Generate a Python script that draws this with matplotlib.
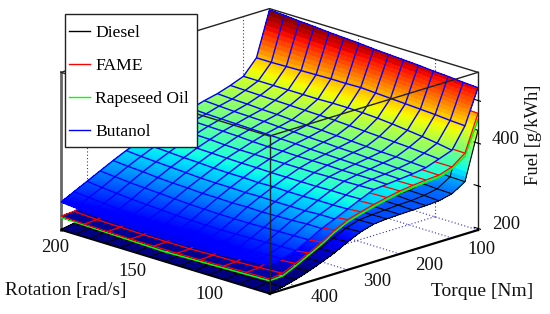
import numpy as np
import matplotlib
matplotlib.use("Agg")
import matplotlib.pyplot as plt
from matplotlib.lines import Line2D
from matplotlib.patches import Rectangle
from mpl_toolkits.mplot3d import proj3d

plt.rcParams['font.family'] = ['Liberation Serif', 'DejaVu Serif']

torque = [450, 425, 400, 375, 350, 325, 300, 275, 250, 225, 200, 175, 150, 125, 100, 75, 50]
rotation_fine = [207, 197.4, 187.7, 178.1, 168.4, 158.8, 149.1, 139.5, 129.9, 120.2, 110.6, 100.9, 91.3, 81.6, 72]
rotation_fame = [207, 192, 177, 162, 147, 132, 117, 102, 87, 72]
rotation_rape = [207, 139.5, 72]

butanol = [
    [262, 259, 256, 254, 252, 252, 251, 251, 251, 252, 253, 255, 258, 261, 264],
    [277, 274, 271, 268, 266, 265, 263, 262, 262, 262, 263, 264, 266, 268, 269],
    [292, 288, 285, 282, 280, 278, 276, 275, 274, 274, 275, 276, 277, 278, 279],
    [307, 304, 301, 299, 297, 295, 293, 292, 291, 291, 291, 292, 293, 294, 295],
    [322, 319, 317, 314, 312, 311, 309, 309, 308, 309, 308, 309, 310, 312, 312],
    [336, 333, 331, 329, 327, 325, 324, 324, 323, 324, 323, 323, 323, 325, 325],
    [348, 346, 344, 342, 341, 339, 338, 338, 337, 338, 337, 337, 338, 338, 339],
    [360, 358, 357, 355, 354, 353, 352, 352, 351, 351, 351, 351, 352, 352, 353],
    [370, 368, 367, 366, 364, 363, 363, 363, 363, 363, 363, 364, 364, 365, 366],
    [379, 378, 377, 376, 375, 373, 372, 372, 371, 371, 371, 370, 370, 370, 369],
    [388, 386, 385, 384, 383, 382, 381, 380, 378, 377, 376, 375, 374, 373, 372],
    [397, 395, 393, 392, 391, 389, 388, 386, 385, 383, 382, 380, 379, 377, 375],
    [404, 402, 401, 399, 398, 396, 394, 393, 391, 389, 387, 385, 384, 382, 380],
    [414, 413, 412, 411, 410, 409, 408, 407, 405, 403, 401, 399, 397, 394, 391],
    [426, 426, 426, 426, 426, 426, 427, 427, 426, 424, 421, 417, 413, 408, 402],
    [460, 460, 461, 462, 463, 464, 464, 465, 463, 461, 459, 457, 455, 452, 450],
    [563, 561, 558, 556, 553, 551, 549, 546, 544, 542, 540, 537, 535, 532, 530],
]

fame = [
    [229, 227, 226, 225, 225, 225, 226, 228, 230, 231],
    [231, 228, 227, 226, 226, 226, 228, 229, 232, 235],
    [241, 238, 236, 234, 234, 235, 237, 239, 244, 249],
    [255, 250, 247, 245, 245, 246, 249, 252, 257, 264],
    [271, 265, 262, 260, 260, 261, 264, 268, 273, 280],
    [287, 281, 278, 276, 276, 277, 280, 284, 291, 299],
    [303, 298, 294, 292, 292, 293, 296, 301, 308, 314],
    [316, 312, 308, 306, 306, 307, 310, 314, 319, 323],
    [328, 324, 321, 319, 319, 320, 322, 325, 328, 331],
    [338, 334, 332, 330, 330, 331, 332, 334, 336, 338],
    [346, 343, 341, 339, 339, 339, 340, 341, 343, 344],
    [353, 350, 348, 346, 346, 346, 346, 347, 347, 348],
    [359, 356, 354, 352, 351, 351, 351, 351, 351, 351],
    [366, 363, 360, 358, 357, 356, 356, 355, 354, 353],
    [377, 374, 371, 369, 367, 366, 365, 364, 363, 363],
    [407, 402, 398, 395, 393, 391, 389, 388, 387, 386],
    [500, 495, 490, 486, 482, 480, 477, 475, 472, 470],
]

rapeseed = [
    [226, 220, 227], [227, 221, 229], [236, 230, 243], [249, 240, 259], [265, 255, 275],
    [281, 272, 294], [297, 287, 309], [310, 301, 318], [322, 314, 326], [332, 325, 333],
    [340, 334, 339], [347, 341, 343], [353, 346, 346], [360, 351, 348], [371, 361, 358],
    [400, 385, 379], [490, 470, 455],
]

diesel = [
    [198, 198, 198, 198, 198, 198, 198, 198, 198, 198, 198, 198, 198, 198, 198],
    [203, 202, 202, 201, 201, 201, 201, 201, 201, 201, 202, 202, 202, 203, 203],
    [210, 209, 208, 207, 207, 206, 206, 206, 207, 207, 208, 208, 209, 210, 211],
    [220, 218, 216, 215, 214, 214, 214, 214, 215, 215, 216, 217, 219, 220, 221],
    [232, 229, 227, 226, 225, 225, 225, 225, 226, 226, 227, 228, 230, 232, 233],
    [246, 243, 241, 239, 238, 237, 237, 237, 238, 238, 239, 241, 243, 245, 246],
    [261, 258, 255, 253, 251, 250, 250, 250, 251, 252, 253, 255, 258, 260, 262],
    [275, 272, 269, 267, 265, 264, 264, 264, 265, 266, 267, 269, 272, 274, 276],
    [285, 282, 279, 277, 276, 275, 275, 275, 276, 277, 278, 280, 282, 284, 285],
    [291, 289, 286, 284, 283, 282, 282, 282, 283, 284, 284, 285, 286, 287, 288],
    [297, 294, 292, 290, 289, 288, 288, 288, 289, 289, 289, 289, 289, 289, 289],
    [303, 300, 298, 296, 295, 294, 294, 294, 293, 293, 292, 292, 291, 291, 290],
    [308, 305, 303, 301, 300, 299, 298, 298, 297, 297, 296, 295, 294, 292, 291],
    [313, 310, 308, 306, 305, 304, 303, 302, 301, 300, 299, 298, 296, 295, 293],
    [322, 319, 317, 315, 314, 313, 312, 310, 309, 308, 306, 304, 303, 301, 300],
    [344, 342, 340, 338, 337, 335, 333, 331, 329, 327, 326, 324, 322, 320, 319],
    [440, 439, 438, 437, 437, 436, 435, 435, 434, 434, 433, 432, 432, 431, 430],
]

series_names = ['Diesel', 'FAME', 'Rapeseed Oil', 'Butanol']
series_colors = ['black', 'red', 'lime', 'blue']
rotation_ticks = [200, 150, 100]
torque_ticks = [400, 300, 200, 100]
fuel_ticks = [200, 300, 400, 500]
fuel_labels = ['200', '', '400', '']

X_LIM = (72, 207)
Y_LIM = (50, 450)
Z_LIM = (196.5, 566)
CLIM = (220, 560)
INK = '#111111'

fig = plt.figure(figsize=(5.5, 3.14), dpi=100)
ax = fig.add_subplot(projection='3d', computed_zorder=False, proj_type='ortho')
ax.set_axis_off()
ax.view_init(elev=17.8, azim=135)
ax.set_xlim(*X_LIM, view_margin=0)
ax.set_ylim(*Y_LIM, view_margin=0)
ax.set_zlim(*Z_LIM, view_margin=0)
ax.set_box_aspect((295.6, 295.6, 166))


def to_pixels(px, py, pz):
    ax.apply_aspect()
    u, v, _ = proj3d.proj_transform(px, py, pz, ax.get_proj())
    return ax.transData.transform((u, v))


def place(size, x0, y0):
    ax.set_position([x0 / 550, y0 / 314, size / 550, size / 314])


size = 400
place(size, 75, -40)
left = to_pixels(X_LIM[1], Y_LIM[1], Z_LIM[0])
right = to_pixels(X_LIM[0], Y_LIM[0], Z_LIM[0])
size *= (478 - 61) / (right[0] - left[0])
place(size, 75, -40)
left = to_pixels(X_LIM[1], Y_LIM[1], Z_LIM[0])
place(size, 75 + 61 - left[0], -40 + (314 - 230) - left[1])


def draw_surface(rot, values, color, level, lw):
    """Smooth-shaded facets between the table values, mesh on the table itself."""
    rot = np.asarray(rot, float)
    tq = np.asarray(torque, float)
    vals = np.asarray(values, float)
    ii = np.linspace(0, len(tq) - 1, (len(tq) - 1) * 10 + 1)
    jj = np.linspace(0, len(rot) - 1, (len(rot) - 1) * 3 + 1)
    by_row = np.array([np.interp(jj, np.arange(len(rot)), row) for row in vals])
    fine = np.array([np.interp(ii, np.arange(len(tq)), col) for col in by_row.T]).T
    fx, fy = np.meshgrid(np.interp(jj, np.arange(len(rot)), rot),
                         np.interp(ii, np.arange(len(tq)), tq))
    ax.plot_surface(fx, fy, fine, rstride=1, cstride=1, cmap='jet', vmin=CLIM[0], vmax=CLIM[1],
                    linewidth=0, antialiased=False, shade=False, zorder=level)
    gx, gy = np.meshgrid(rot, tq)
    ax.plot_wireframe(gx, gy, vals, rstride=1, cstride=1, color=color, linewidth=lw, zorder=level + 0.5)


# back of the box and dotted reference lines
dot = dict(color='#3030c8', linewidth=0.8, linestyle=(0, (1, 2)), zorder=0.6)
for t in torque_ticks:
    ax.plot(X_LIM, [t, t], [Z_LIM[0]] * 2, **dot)
    ax.plot([X_LIM[1]] * 2, [t, t], Z_LIM, **dot)
for r in rotation_ticks:
    ax.plot([r, r], Y_LIM, [Z_LIM[0]] * 2, **dot)
    ax.plot([r, r], [Y_LIM[0]] * 2, Z_LIM, **dot)
ax.plot(X_LIM, [Y_LIM[0]] * 2, [Z_LIM[0]] * 2, **dot)
ax.plot([X_LIM[1], X_LIM[1], X_LIM[0]], [Y_LIM[1], Y_LIM[0], Y_LIM[0]], [Z_LIM[1]] * 3,
        color='#222222', linewidth=1.0, zorder=0.7)
ax.plot([X_LIM[1]] * 2, [Y_LIM[1]] * 2, Z_LIM, color='#666666', linewidth=2.0, zorder=0.7)

draw_surface(rotation_fine, diesel, 'black', 1, 0.8)
draw_surface(rotation_rape, rapeseed, 'lime', 3, 1.2)
draw_surface(rotation_fame, fame, 'red', 5, 0.9)
draw_surface(rotation_fine, butanol, 'blue', 7, 1.0)

# front of the box, on top of the surfaces
ax.plot([X_LIM[1], X_LIM[0], X_LIM[0]], [Y_LIM[1], Y_LIM[1], Y_LIM[0]], [Z_LIM[1]] * 3,
        color='#222222', linewidth=1.0, zorder=20)
ax.plot([X_LIM[0]] * 2, [Y_LIM[1]] * 2, Z_LIM, color='#222222', linewidth=1.0, zorder=20)
ax.plot([X_LIM[0]] * 2, [Y_LIM[0]] * 2, Z_LIM, color='#222222', linewidth=1.0, zorder=20)
ax.plot([X_LIM[0]] * 2, Y_LIM, [Z_LIM[0]] * 2, color='black', linewidth=1.6, zorder=20)
ax.plot([X_LIM[1], X_LIM[0]], [Y_LIM[1]] * 2, [Z_LIM[0]] * 2, color='black', linewidth=1.2, zorder=0.8)

for z in fuel_ticks:
    ax.plot([X_LIM[0], X_LIM[0] + 2.5], [Y_LIM[0], Y_LIM[0]], [z, z], color='black', linewidth=0.8, zorder=20)
    ax.plot([X_LIM[0], X_LIM[0] - 2.5], [Y_LIM[0], Y_LIM[0]], [z, z], color='black', linewidth=0.8, zorder=20)


def label_at(px, py, pz, s, fontsize=13.4):
    dx, dy = to_pixels(px, py, pz)
    fig.text(dx / 550, dy / 314, s, ha='center', va='center', fontsize=fontsize, color=INK, zorder=6)


for z, label in zip(fuel_ticks, fuel_labels):
    if label:
        label_at(63, 23, z + 9, label)
for r in rotation_ticks:
    label_at(r, 482, 175, str(r))
for t in torque_ticks:
    label_at(53, t, 190, str(t))


def fig_text(px, py, s, fontsize, **kw):
    fig.text(px / 550, 1 - py / 314, s, ha='center', va='center', fontsize=fontsize, color=INK, **kw)


fig_text(66, 291, 'Rotation [rad/s]', 13.9)
fig_text(482, 292, 'Torque [Nm]', 14.0)
fig_text(533, 135, 'Fuel [g/kWh]', 13.3, rotation=90)

fig.add_artist(Rectangle((65 / 550, 1 - 147 / 314), 132 / 550, 133 / 314, transform=fig.transFigure,
                         facecolor='white', edgecolor='#222222', linewidth=1.0, zorder=4))
handles = [Line2D([], [], color=c, linewidth=1.0) for c in series_colors]
fig.legend(handles, series_names, loc='upper left',
           bbox_to_anchor=(69 / 550, 1 - 25 / 314), borderaxespad=0, borderpad=0,
           fontsize=12.6, frameon=False, handlelength=1.2, handletextpad=0.3,
           labelspacing=0.95)

fig.savefig('out.png', dpi=100)
